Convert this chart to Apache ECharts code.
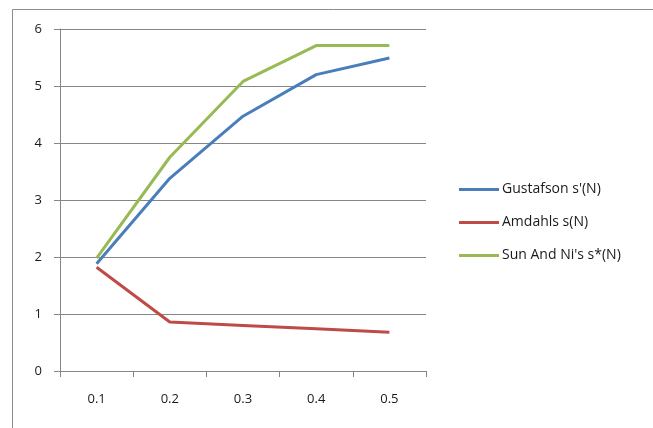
<!DOCTYPE html>
<html><head><meta charset="utf-8">
<script src="https://cdn.jsdelivr.net/npm/echarts@6/dist/echarts.min.js"></script>
<style>html,body{margin:0;padding:0;background:#fff}#c{width:653px;height:428px}</style>
</head><body><div id="c"></div>
<script>
var categories = ['0.1', '0.2', '0.3', '0.4', '0.5'];
var gustafson = [1.88, 3.38, 4.47, 5.2, 5.49];
var amdahl = [1.82, 0.86, 0.8, 0.74, 0.68];
var sunNi = [1.98, 3.75, 5.08, 5.71, 5.71];
var seriesNames = ["Gustafson s'(N)", 'Amdahls s(N)', "Sun And Ni's s*(N)"];

var font = "'Open Sans', 'Liberation Sans', sans-serif";
var chart = echarts.init(document.getElementById('c'), null, {renderer: 'canvas'});
function mk(name, data, color) {
  return {name: name, type: 'line', data: data, symbol: 'none', smooth: false,
    lineStyle: {color: color, width: 3}, itemStyle: {color: color}, animation: false};
}
chart.setOption({
  animation: false,
  backgroundColor: '#fff',
  graphic: [{type: 'rect', shape: {x: 12.5, y: 9.5, width: 700, height: 500},
    style: {fill: 'none', stroke: '#8c8c8c', lineWidth: 1}, silent: true}],
  grid: {left: 60, right: 227, top: 29, bottom: 57},
  legend: {orient: 'vertical', left: 454, top: 177, itemWidth: 40, itemHeight: 3,
    icon: 'rect', itemGap: 18,
    textStyle: {fontFamily: font, fontSize: 14, color: '#1a1a1a', lineHeight: 15, padding: [0, 0, 0, -2]},
    data: seriesNames},
  xAxis: {type: 'category', data: categories, boundaryGap: true,
    axisLine: {lineStyle: {color: '#868686', width: 1}},
    axisTick: {show: true, length: 6, alignWithLabel: false, lineStyle: {color: '#868686'}},
    axisLabel: {fontFamily: font, fontSize: 13, color: '#1a1a1a', margin: 22}},
  yAxis: {type: 'value', min: 0, max: 6, interval: 1,
    axisLine: {show: true, lineStyle: {color: '#868686', width: 1}},
    axisTick: {show: true, length: 6, lineStyle: {color: '#868686'}},
    splitLine: {lineStyle: {color: '#868686', width: 1}},
    axisLabel: {fontFamily: font, fontSize: 13, color: '#1a1a1a', margin: 18}},
  series: [mk(seriesNames[0], gustafson, '#4a7ebb'), mk(seriesNames[1], amdahl, '#be4b48'), mk(seriesNames[2], sunNi, '#98b954')]
});
</script></body></html>
